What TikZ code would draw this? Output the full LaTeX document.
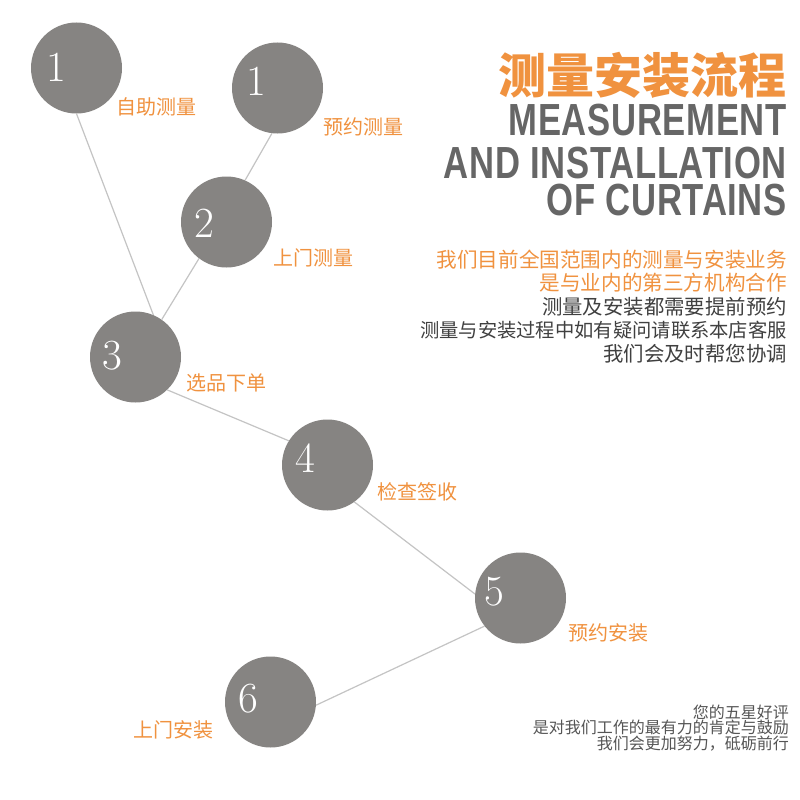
\documentclass[tikz,border=0pt]{standalone}
\usepackage{xcolor}
\usepackage{fontspec}
\usepackage{tikz}
\usetikzlibrary{positioning}
\newfontfamily\cjk{Noto Sans CJK SC}
\newfontfamily\entitle{Liberation Sans}[FakeStretch=0.77,LetterSpace=1.5]
\definecolor{Orange}{HTML}{F0923F}
\definecolor{Bubble}{HTML}{868482}
\definecolor{TitleGray}{HTML}{666666}
\definecolor{TextGray}{HTML}{404040}
\definecolor{NoteGray}{HTML}{555555}
\definecolor{Line}{HTML}{C4C4C4}

\begin{document}
\begin{tikzpicture}[x=1pt,y=-1pt,
    bubble/.style={circle,fill=Bubble,minimum size=91pt,inner sep=0pt},
    num/.style={text=white,inner sep=0pt,font=\fontsize{43}{43}\selectfont},
    tag/.style={anchor=west,text=Orange,inner sep=0pt,font=\cjk\fontsize{20}{20}\selectfont},
    entitle/.style={anchor=base east,text=TitleGray,inner sep=0pt,font=\entitle\bfseries\fontsize{45}{45}\selectfont},
    link/.style={draw=Line,line width=1.2pt}
]
\useasboundingbox[fill=white] (0,0) rectangle (800,800);
\foreach \n/\x/\y in {1a/76.5/68,1b/277.5/88,2/226.5/222,3/135.5/357,4/327.5/465,5/520.5/598,6/270.5/702}{
    \node[bubble] (c\n) at (\x,\y) {};
}
\node[num] (n1a) at (56,67.5) {1};
\node[num] (n1b) at (256.5,81) {1};
\node[num] (n2) at (204,223) {2};
\node[num] (n3) at (112.5,356) {3};
\node[num] (n4) at (305.5,458) {4};
\node[num] (n5) at (494,592) {5};
\node[num] (n6) at (248.5,699) {6};
\node[tag] (t1a) at (116,107) {自助测量};
\node[tag] (t1b) at (323,127) {预约测量};
\node[tag] (t2) at (273,258) {上门测量};
\node[tag] (t3) at (186,383) {选品下单};
\node[tag] (t4) at (377,492) {检查签收};
\node[tag] (t5) at (568,633) {预约安装};
\node[tag] (t6) at (133,730) {上门安装};
\draw[link] (c1a.270) -- (c3.67);
\draw[link] (c1b.263) -- (c2.66);
\draw[link] (c2.233) -- (c3.55);
\draw[link] (c3.314) -- (c4.148);
\draw[link] (c4.306) -- (c5.175);
\draw[link] (c5.218) -- (c6.356);
\node[anchor=east,text=Orange,inner sep=0pt,font=\cjk\bfseries\fontsize{48}{48}\selectfont] (title) at (787,75) {测量安装流程};
\node[entitle] (en1) at (787,135) {MEASUREMENT};
\node[entitle] (en2) at (787,178) {AND INSTALLATION};
\node[entitle] (en3) at (787,215) {OF CURTAINS};
\node[anchor=east,align=right,text=TextGray,inner sep=0pt,font=\cjk\fontsize{20.4}{23.5}\selectfont] (intro) at (787,306.5) {\textcolor{Orange}{\fontsize{20.6}{23.5}\selectfont 我们目前全国范围内的测量与安装业务}\\
\textcolor{Orange}{\fontsize{20.6}{23.5}\selectfont 是与业内的第三方机构合作}\\
测量及安装都需要提前预约\\
{\fontsize{19.3}{23.5}\selectfont 测量与安装过程中如有疑问请联系本店客服}\\
我们会及时帮您协调};
\node[anchor=east,align=right,text=NoteGray,inner sep=0pt,font=\cjk\fontsize{16}{13.7}\selectfont] (note) at (789,728) {您的五星好评\\
是对我们工作的最有力的肯定与鼓励\\
我们会更加努力，砥砺前行};
\end{tikzpicture}
\end{document}
